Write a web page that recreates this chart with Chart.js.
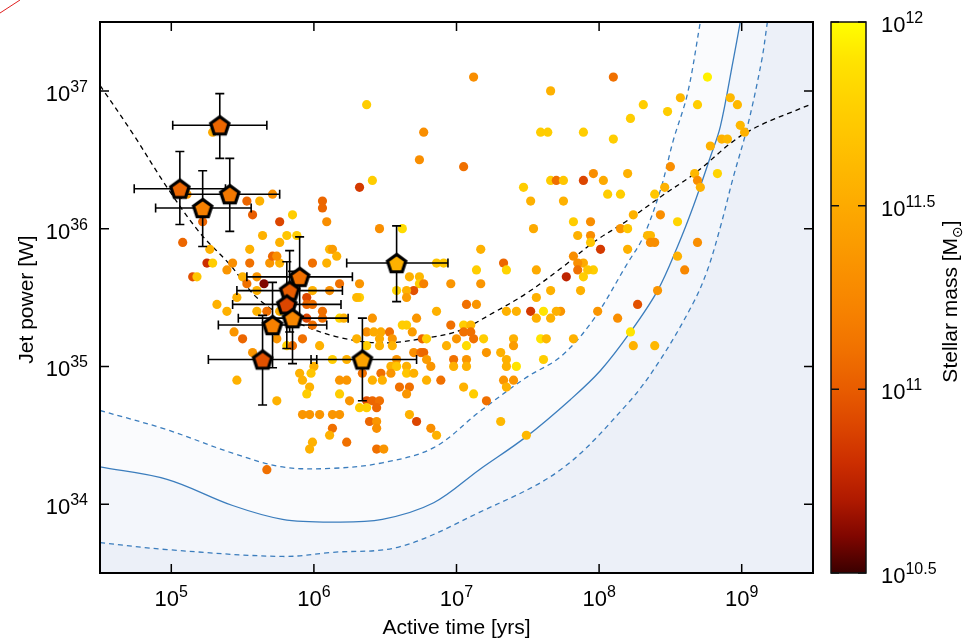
<!DOCTYPE html>
<html lang="en">
<head>
  <meta charset="UTF-8">
  <title>Jet power vs active time</title>
  <script src="https://cdn.jsdelivr.net/npm/chart.js@4.4.1/dist/chart.umd.min.js"></script>
  <style>
    html, body { margin: 0; padding: 0; background: #fff; }
    #wrap { width: 965px; height: 640px; position: relative; }
  </style>
</head>
<body>
<div id="wrap"><canvas id="chart"></canvas></div>
<script>
// all values are log10: time in yrs, power in W, stellar mass in Msun
const dotTime = [
  6.37,7.12,7.66,6.77,7.59,7.64,6.74,7.05,6.32,6.41, 7.47,7.66,7.70,7.75,7.52,7.75,6.46,6.62,7.54,7.17,
  6.86,6.91,7.33,7.14,7.35,7.56,8.10,8.76,8.57,8.92, 8.31,8.69,8.97,8.48,8.22,7.89,8.10,8.99,9.02,8.86,
  8.90,8.78,8.50,7.89,7.96,8.03,8.20,8.67,8.69,8.71, 8.83,8.06,8.15,8.46,8.39,8.24,8.43,7.82,7.94,8.55,
  7.85,7.94,8.15,8.20,8.34,8.36,8.36,8.39,7.94,8.01, 8.20,8.69,7.82,7.89,7.96,8.55,8.60,7.85,7.85,7.92,
  7.77,7.89,7.87,8.41,8.27,7.99,8.13,8.22,7.82,8.24, 8.39,7.73,6.67,6.74,6.74,6.70,6.58,6.65,6.65,6.96,
  7.17,7.66,7.56,7.07,7.14,6.86,7.35,7.42,7.52,7.61, 7.70,7.56,7.66,6.41,6.72,6.62,6.65,6.96,7.05,7.10,
  6.37,6.42,6.47,6.53,6.69,7.05,7.10,6.46,6.55,6.76, 6.79,7.00,7.12,7.19,7.40,7.59,7.63,6.37,6.46,6.55,
  6.93,7.07,7.40,6.70,6.75,6.77,7.21,7.31,7.35,7.61, 6.58,6.79,6.98,7.07,6.35,6.82,6.54,6.58,6.65,6.98,
  7.07,7.35,7.42,6.47,6.54,6.65,6.70,7.33,7.40,7.35, 6.41,6.48,6.79,6.89,6.60,6.67,7.05,6.65,7.12,7.21,
  6.37,6.41,6.46,6.44,6.37,6.67,6.39,6.44,6.72,7.31, 6.44,6.82,6.86,7.49,6.44,6.49,6.32,6.32,6.30,5.25,
  5.29,5.43,5.55,5.69,5.76,5.99,6.09,5.15,5.18,5.39, 5.50,5.60,5.53,5.65,5.60,5.46,5.32,5.39,5.60,5.67,
  5.99,6.11,6.18,5.95,5.95,5.99,6.06,5.76,5.95,6.06, 6.18,6.21,5.99,5.44,5.50,5.74,5.92,6.04,5.81,5.85,
  6.30,5.57,6.13,6.23,6.00,5.90,5.98,6.34,5.92,6.18, 6.23,5.97,5.95,6.18,6.25,6.32,5.46,5.74,5.92,5.97,
  6.04,6.13,6.18,6.13,6.11,6.23,5.99,5.97,5.67,5.29, 5.11,5.53,5.62,5.71,5.57,5.85,6.06,6.06,5.22,5.76,
  6.09,5.64,5.81,5.88,5.76,5.08,5.27,5.55,6.11,6.13, 6.16,5.71,5.74,6.77
];
const dotPower = [
  36.90,37.10,37.00,36.70,36.70,36.70,36.50,36.45,36.30,36.35, 36.30,36.35,36.35,36.35,36.20,36.20,36.00,36.00,36.00,35.85,
  35.75,35.75,35.75,35.70,35.70,35.70,37.10,37.10,36.95,36.95, 36.90,36.90,36.90,36.85,36.80,36.70,36.65,36.75,36.70,36.65,
  36.65,36.60,36.45,36.35,36.40,36.35,36.40,36.40,36.35,36.30, 36.40,36.25,36.25,36.30,36.25,36.10,36.10,36.05,36.05,36.05,
  35.95,35.95,36.00,36.00,35.95,35.95,35.90,35.90,35.90,35.85, 35.85,35.90,35.80,35.75,35.70,35.80,35.70,35.75,35.70,35.70,
  35.65,35.65,35.55,35.55,35.45,35.40,35.35,35.25,35.20,35.15, 35.15,35.40,35.65,35.65,35.60,35.55,35.55,35.55,35.50,35.60,
  35.60,35.55,35.50,35.45,35.45,35.40,35.40,35.40,35.40,35.40, 35.40,35.35,35.35,35.35,35.35,35.30,35.30,35.30,35.30,35.30,
  35.25,35.25,35.25,35.25,35.25,35.25,35.25,35.20,35.20,35.20, 35.20,35.20,35.20,35.20,35.20,35.20,35.20,35.15,35.15,35.15,
  35.15,35.15,35.15,35.10,35.10,35.10,35.10,35.10,35.05,35.05, 35.05,35.05,35.05,35.05,35.05,35.00,35.00,35.00,35.00,35.00,
  35.00,35.00,35.00,34.95,34.95,34.95,34.95,34.90,34.90,34.85, 34.90,34.90,34.90,34.90,34.85,34.85,34.85,34.80,34.80,34.75,
  34.75,34.75,34.75,34.70,34.70,34.65,34.60,34.60,34.60,34.60, 34.55,34.55,34.50,34.50,34.40,34.40,35.60,35.50,35.50,35.75,
  35.75,35.75,35.75,35.75,35.75,35.75,35.75,35.65,35.65,35.70, 35.65,35.65,35.60,35.60,35.55,35.50,35.45,35.40,35.40,35.40,
  35.55,35.55,35.60,35.50,35.45,35.45,35.40,35.40,35.35,35.35, 35.35,35.35,35.30,35.25,35.20,35.20,35.20,35.15,35.15,35.15,
  35.20,35.10,35.05,35.05,35.00,34.95,34.95,34.95,34.90,34.90, 34.90,34.85,34.80,34.80,34.75,34.70,34.90,34.75,34.65,34.65,
  34.65,34.65,34.65,34.55,34.50,34.45,34.45,34.40,34.25,36.70, 36.25,36.20,36.20,36.25,36.10,36.10,36.20,36.15,36.05,36.05,
  36.05,35.95,35.95,35.95,35.90,35.90,35.85,35.85,35.85,35.85, 35.80,35.80,35.80,35.60
];
const dotMass = [
  11.75,11.30,11.55,11.30,11.75,11.75,11.30,11.10,10.85,11.75, 11.75,11.75,11.10,11.70,11.55,11.55,11.30,11.85,11.50,11.55,
  11.70,11.70,11.05,11.75,11.80,11.50,11.10,11.95,11.60,11.60, 11.75,11.75,11.60,11.75,11.75,11.75,11.75,11.60,11.55,11.55,
  11.60,11.55,11.30,10.90,11.30,11.50,11.55,11.60,11.30,11.55, 11.80,11.75,11.75,11.55,11.70,11.55,11.30,11.75,11.30,11.80,
  11.55,11.30,11.35,11.70,11.60,11.60,11.30,11.30,11.70,10.85, 11.55,11.30,11.30,11.50,11.75,11.55,11.25,11.30,11.10,11.70,
  10.75,11.75,11.55,11.35,10.95,11.35,11.30,11.90,11.55,11.55, 11.60,11.35,11.55,11.60,11.75,10.95,11.80,11.55,11.40,11.35,
  11.35,11.55,11.55,11.10,11.35,11.55,11.55,11.55,10.85,11.90, 11.55,11.55,11.55,11.35,11.35,11.75,11.75,11.10,11.75,11.60,
  11.30,11.50,11.50,11.10,11.40,11.10,11.10,11.50,11.35,11.05, 11.75,11.35,11.10,11.75,11.55,11.90,11.60,11.75,11.55,11.55,
  11.55,11.85,11.40,11.30,11.10,11.05,11.35,11.55,11.55,11.75, 11.35,11.40,11.10,11.35,11.30,11.35,11.55,11.70,11.55,11.55,
  11.55,11.55,11.90,11.10,11.35,11.70,11.55,11.35,11.35,11.55, 11.55,11.55,11.55,11.10,11.10,11.10,11.55,11.35,11.75,11.10,
  10.95,11.05,11.10,11.05,11.75,11.55,11.05,11.35,10.90,11.60, 11.30,11.30,11.55,11.60,11.10,11.35,11.35,11.75,11.60,10.80,
  11.75,11.30,11.10,11.35,11.55,11.10,11.55,10.95,11.70,11.35, 11.55,11.35,11.10,10.60,11.55,11.55,11.55,11.55,11.55,11.10,
  11.55,11.30,11.10,10.90,11.05,11.10,11.10,11.55,10.90,11.10, 11.80,11.55,11.10,11.35,11.05,11.35,11.10,11.55,11.80,11.10,
  11.55,11.35,11.75,11.55,11.55,11.55,11.70,11.10,11.55,11.35, 11.35,11.55,11.75,11.75,11.35,11.75,11.55,11.55,11.35,11.35,
  11.35,11.35,11.35,11.10,11.55,11.10,11.55,11.55,11.10,11.50, 11.35,11.05,11.55,11.30,11.00,11.75,11.05,11.05,11.05,10.90,
  11.30,11.55,11.70,11.75,11.55,11.05,11.55,11.55,11.60,11.40, 11.55,11.05,11.30,11.20
];

// sources with error bars (pentagons)
const srcTime   = [5.34, 5.06, 5.41, 5.22, 6.58, 5.90, 5.83, 5.81, 5.85, 5.71, 5.64, 6.34];
const srcTimeLo = [5.01, 4.74, 5.07, 4.89, 6.23, 5.53, 5.46, 5.43, 5.47, 5.33, 5.26, 5.98];
const srcTimeHi = [5.67, 5.38, 5.76, 5.56, 6.94, 6.27, 6.20, 6.19, 6.24, 6.09, 6.02, 6.72];
const srcPower   = [36.75, 36.29, 36.25, 36.15, 35.75, 35.65, 35.55, 35.45, 35.35, 35.30, 35.05, 35.05];
const srcPowerLo = [36.51, 36.03, 35.98, 35.87, 35.47, 35.36, 35.25, 35.13, 35.02, 34.99, 34.72, 34.75];
const srcPowerHi = [36.98, 36.56, 36.51, 36.42, 36.02, 35.94, 35.84, 35.76, 35.69, 35.61, 35.37, 35.35];
const srcMass = [11.05, 11.05, 11.15, 11.20, 11.55, 11.10, 11.00, 10.90, 11.25, 11.20, 10.95, 11.45];

// curves
const meanTime  = [4.50,4.73,4.97,5.20,5.41,5.62,5.90,6.18,6.48,6.81,7.02,7.26,7.49,7.73,7.96,8.20,8.43,8.67,9.02,9.50];
const meanPower = [37.04,36.69,36.30,35.97,35.74,35.48,35.31,35.21,35.17,35.21,35.26,35.39,35.53,35.71,35.90,36.06,36.23,36.40,36.69,36.91];
const limTime   = [4.50,4.97,5.43,5.78,6.13,6.48,6.84,7.16,7.49,7.80,8.01,8.22,8.41,8.55,8.66,8.78,8.85,8.94,8.99];
const limPower  = [34.27,34.18,33.99,33.89,33.87,33.89,34.01,34.25,34.49,34.76,34.97,35.25,35.55,35.87,36.16,36.52,36.74,37.22,37.50];
const limHiTime  = [4.50,4.97,5.43,5.78,6.13,6.48,6.84,7.16,7.49,7.73,7.96,8.20,8.31,8.43,8.52,8.62,8.71];
const limHiPower = [34.68,34.54,34.37,34.27,34.26,34.30,34.41,34.67,34.92,35.07,35.34,35.75,35.94,36.28,36.64,36.98,37.50];
const limLoTime  = [4.50,4.97,5.78,6.13,6.60,7.16,7.73,8.20,8.43,8.66,8.76,8.85,8.94,9.04,9.14,9.18];
const limLoPower = [33.72,33.67,33.62,33.65,33.69,33.94,34.25,34.73,35.05,35.46,35.70,36.01,36.37,36.74,37.22,37.50];

const timeTicks = [5, 6, 7, 8, 9];
const powerTicks = [34, 35, 36, 37];
const massTicks = [10.5, 11, 11.5, 12];
const massTickLabels = ['10.5', '11', '11.5', '12'];

const FONT = '"Liberation Sans", Arial, Helvetica, sans-serif';

// colour map for the stellar mass
const cmap = [
  [10.5, 58, 0, 0], [10.6, 128, 6, 0], [10.7, 176, 26, 0], [10.8, 204, 46, 0],
  [10.9, 220, 70, 0], [11.0, 232, 92, 0], [11.1, 240, 112, 0], [11.2, 246, 128, 0],
  [11.3, 249, 142, 0], [11.4, 251, 156, 0], [11.5, 253, 170, 0], [11.6, 254, 184, 0],
  [11.7, 255, 198, 0], [11.8, 255, 212, 0], [11.9, 255, 228, 0], [12.0, 255, 255, 0]
];
function massColor(m) {
  if (m <= cmap[0][0]) return `rgb(${cmap[0][1]},${cmap[0][2]},${cmap[0][3]})`;
  for (let i = 1; i < cmap.length; i++) {
    if (m <= cmap[i][0]) {
      const a = cmap[i - 1], b = cmap[i];
      const t = (m - a[0]) / (b[0] - a[0]);
      const c = [1, 2, 3].map(k => Math.round(a[k] + (b[k] - a[k]) * t));
      return `rgb(${c[0]},${c[1]},${c[2]})`;
    }
  }
  return 'rgb(255,255,0)';
}

function pentagon(color) {
  const s = 28, c = document.createElement('canvas');
  c.width = s; c.height = s;
  const g = c.getContext('2d');
  g.beginPath();
  for (let i = 0; i < 5; i++) {
    const a = -Math.PI / 2 + i * 2 * Math.PI / 5;
    const px = s / 2 + 9.6 * Math.cos(a), py = s / 2 + 1 + 9.6 * Math.sin(a);
    if (i) g.lineTo(px, py); else g.moveTo(px, py);
  }
  g.closePath();
  g.fillStyle = color;
  g.fill();
  g.lineWidth = 3.2;
  g.lineJoin = 'miter';
  g.strokeStyle = '#000';
  g.stroke();
  return c;
}

const pts = (xs, ys) => xs.map((x, i) => ({ x: x, y: ys[i] }));

function powLabel(ctx, exp, x, y, align) {
  ctx.font = '22px ' + FONT;
  const wb = ctx.measureText('10').width;
  ctx.font = '16px ' + FONT;
  const we = ctx.measureText(exp).width;
  let x0 = x;
  if (align === 'center') x0 = x - (wb + we) / 2;
  if (align === 'right') x0 = x - wb - we;
  ctx.textAlign = 'left';
  ctx.textBaseline = 'alphabetic';
  ctx.font = '22px ' + FONT;
  ctx.fillText('10', x0, y);
  ctx.font = '16px ' + FONT;
  ctx.fillText(exp, x0 + wb, y - 9);
}

const decor = {
  id: 'decor',
  beforeDatasetsDraw(chart) {
    const { ctx, chartArea: a } = chart;
    ctx.save();
    ctx.fillStyle = '#ecf0f8';
    ctx.fillRect(a.left, a.top, a.right - a.left, a.bottom - a.top);
    ctx.restore();
  },
  beforeDatasetDraw(chart, args) {
    if (args.index !== 0) return;
    const { ctx } = chart;
    const xs = chart.scales.x, ys = chart.scales.y;
    ctx.save();
    ctx.strokeStyle = '#000';
    ctx.lineWidth = 1.6;
    const cap = 4.5;
    srcTime.forEach((t, i) => {
      const x = xs.getPixelForValue(t), y = ys.getPixelForValue(srcPower[i]);
      const x1 = xs.getPixelForValue(srcTimeLo[i]), x2 = xs.getPixelForValue(srcTimeHi[i]);
      const y1 = ys.getPixelForValue(srcPowerLo[i]), y2 = ys.getPixelForValue(srcPowerHi[i]);
      ctx.beginPath();
      ctx.moveTo(x1, y); ctx.lineTo(x2, y);
      ctx.moveTo(x1, y - cap); ctx.lineTo(x1, y + cap);
      ctx.moveTo(x2, y - cap); ctx.lineTo(x2, y + cap);
      ctx.moveTo(x, y1); ctx.lineTo(x, y2);
      ctx.moveTo(x - cap, y1); ctx.lineTo(x + cap, y1);
      ctx.moveTo(x - cap, y2); ctx.lineTo(x + cap, y2);
      ctx.stroke();
    });
    ctx.restore();
  },
  afterDraw(chart) {
    const { ctx, chartArea: a } = chart;
    const xs = chart.scales.x, ys = chart.scales.y, ms = chart.scales.m;
    ctx.save();
    ctx.fillStyle = '#000';
    ctx.strokeStyle = '#000';

    // frame and inward ticks
    ctx.lineWidth = 1.5;
    ctx.beginPath();
    timeTicks.forEach(v => {
      const x = xs.getPixelForValue(v);
      ctx.moveTo(x, a.bottom); ctx.lineTo(x, a.bottom - 9);
      ctx.moveTo(x, a.top); ctx.lineTo(x, a.top + 9);
    });
    powerTicks.forEach(v => {
      const y = ys.getPixelForValue(v);
      ctx.moveTo(a.left, y); ctx.lineTo(a.left + 9, y);
      ctx.moveTo(a.right, y); ctx.lineTo(a.right - 9, y);
    });
    ctx.stroke();
    ctx.lineWidth = 2;
    ctx.strokeRect(a.left, a.top, a.right - a.left, a.bottom - a.top);

    timeTicks.forEach(v => powLabel(ctx, String(v), xs.getPixelForValue(v), a.bottom + 33, 'center'));
    powerTicks.forEach(v => powLabel(ctx, String(v), a.left - 12, ys.getPixelForValue(v) + 10, 'right'));

    ctx.font = '21px ' + FONT;
    ctx.textAlign = 'center';
    ctx.textBaseline = 'alphabetic';
    ctx.fillText('Active time [yrs]', (a.left + a.right) / 2, 634);
    ctx.save();
    ctx.translate(33, (a.top + a.bottom) / 2 + 2);
    ctx.rotate(-Math.PI / 2);
    ctx.fillText('Jet power [W]', 0, 0);
    ctx.restore();

    // colour bar
    const cx0 = a.right + 18, cx1 = a.right + 53;
    const cTop = ms.getPixelForValue(12), cBot = ms.getPixelForValue(10.5);
    const grad = ctx.createLinearGradient(0, cBot, 0, cTop);
    cmap.forEach(s => grad.addColorStop((s[0] - 10.5) / 1.5, `rgb(${s[1]},${s[2]},${s[3]})`));
    ctx.fillStyle = grad;
    ctx.fillRect(cx0, cTop, cx1 - cx0, cBot - cTop);
    ctx.lineWidth = 1.5;
    ctx.strokeStyle = '#111';
    ctx.strokeRect(cx0, cTop, cx1 - cx0, cBot - cTop);
    ctx.beginPath();
    massTicks.forEach(v => {
      const y = ms.getPixelForValue(v);
      ctx.moveTo(cx0, y); ctx.lineTo(cx0 + 8, y);
      ctx.moveTo(cx1, y); ctx.lineTo(cx1 - 8, y);
    });
    ctx.stroke();
    ctx.fillStyle = '#000';
    massTicks.forEach((v, i) => powLabel(ctx, massTickLabels[i], cx1 + 15, ms.getPixelForValue(v) + 10, 'left'));

    // colour bar title with subscript sun symbol
    ctx.save();
    ctx.translate(957, (a.top + a.bottom) / 2 + 4);
    ctx.rotate(-Math.PI / 2);
    ctx.textAlign = 'left';
    ctx.font = '21px ' + FONT;
    const t1 = 'Stellar mass [M', t3 = ']';
    const w1 = ctx.measureText(t1).width, w3 = ctx.measureText(t3).width;
    ctx.font = '14px "DejaVu Sans", sans-serif';
    const w2 = ctx.measureText('\u2299').width;
    let x0 = -(w1 + w2 + w3) / 2;
    ctx.font = '21px ' + FONT;
    ctx.fillText(t1, x0, 0);
    ctx.font = '14px "DejaVu Sans", sans-serif';
    ctx.fillText('\u2299', x0 + w1, 5);
    ctx.font = '21px ' + FONT;
    ctx.fillText(t3, x0 + w1 + w2, 0);
    ctx.restore();

    // stray red stroke in the corner of the source figure
    ctx.strokeStyle = '#e02020';
    ctx.lineWidth = 1;
    ctx.beginPath();
    ctx.moveTo(0, 13); ctx.lineTo(20, 0);
    ctx.stroke();
    ctx.restore();
  }
};

const lineBase = { type: 'line', pointRadius: 0, borderWidth: 1.3, tension: 0.35, xAxisID: 'x', yAxisID: 'y' };

new Chart(document.getElementById('chart'), {
  type: 'scatter',
  data: {
    datasets: [
      {
        label: 'sources',
        data: pts(srcTime, srcPower),
        pointStyle: srcMass.map(m => pentagon(massColor(m))),
        pointRadius: 10,
        order: 0, xAxisID: 'x', yAxisID: 'y'
      },
      {
        label: 'galaxies',
        data: pts(dotTime, dotPower),
        backgroundColor: dotMass.map(massColor),
        pointRadius: 4.6,
        borderWidth: 0,
        order: 1, xAxisID: 'x', yAxisID: 'y'
      },
      Object.assign({}, lineBase, {
        label: 'mean', data: pts(meanTime, meanPower),
        borderColor: '#000', borderDash: [5, 4], fill: false, order: 2
      }),
      Object.assign({}, lineBase, {
        label: 'limit upper', data: pts(limHiTime, limHiPower),
        borderColor: '#3b7dbd', borderDash: [5, 4], fill: 'end', backgroundColor: '#ffffff', order: 3
      }),
      Object.assign({}, lineBase, {
        label: 'limit', data: pts(limTime, limPower),
        borderColor: '#3b7dbd', fill: 'end', backgroundColor: '#fafbfd', order: 4
      }),
      Object.assign({}, lineBase, {
        label: 'limit lower', data: pts(limLoTime, limLoPower),
        borderColor: '#3b7dbd', borderDash: [5, 4], fill: 'end', backgroundColor: '#f3f6fb', order: 5
      })
    ]
  },
  options: {
    responsive: true,
    maintainAspectRatio: false,
    animation: false,
    events: [],
    layout: { padding: { left: 100, right: 152, top: 22, bottom: 67 } },
    plugins: { legend: { display: false }, tooltip: { enabled: false } },
    scales: {
      x: { type: 'linear', min: 4.5, max: 9.5, display: false },
      y: { type: 'linear', min: 33.5, max: 37.5, display: false },
      m: { type: 'linear', axis: 'y', min: 10.5, max: 12, display: false }
    }
  },
  plugins: [decor]
});
</script>
</body>
</html>
